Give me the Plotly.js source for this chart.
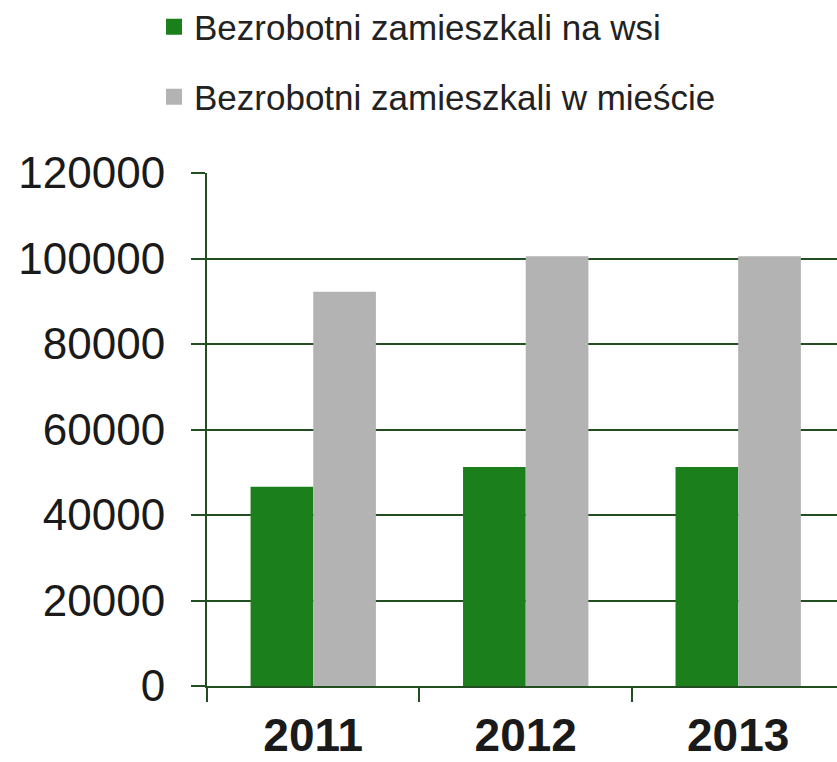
<!DOCTYPE html>
<html>
<head>
<meta charset="utf-8">
<script src="https://cdn.plot.ly/plotly-3.0.1.min.js"></script>
<style>html,body{margin:0;padding:0;background:#fff;}#chart{width:837px;height:762px;}</style>
</head>
<body>
<div id="chart"></div>
<script>
var years = ["2011", "2012", "2013"];
var wies = [46600, 51200, 51200];
var miasto = [92200, 100500, 100500];
var seriesNames = ["Bezrobotni zamieszkali na wsi", "Bezrobotni zamieszkali w mieście"];
var seriesColors = ["#1b7f1b", "#b3b3b3"];
var yTicks = [0, 20000, 40000, 60000, 80000, 100000, 120000];

var axisColor = "#224e22";
var traces = [
  {type: "bar", x: years, y: wies, name: seriesNames[0], marker: {color: seriesColors[0]}, showlegend: false},
  {type: "bar", x: years, y: miasto, name: seriesNames[1], marker: {color: seriesColors[1]}, showlegend: false},
  {type: "scatter", mode: "markers", x: [null], y: [null], name: seriesNames[0],
   marker: {symbol: "square", size: 16, color: seriesColors[0]}, legend: "legend", hoverinfo: "skip"},
  {type: "scatter", mode: "markers", x: [null], y: [null], name: seriesNames[1],
   marker: {symbol: "square", size: 16, color: seriesColors[1]}, legend: "legend2", hoverinfo: "skip"}
];
var legendFont = {family: "Liberation Sans, Arial, sans-serif", size: 35, color: "#222"};
var layout = {
  width: 837, height: 762,
  margin: {l: 207, r: 0, t: 173, b: 75.5, autoexpand: false},
  paper_bgcolor: "#fff", plot_bgcolor: "#fff",
  barmode: "group", bargap: 0.41, bargroupgap: 0,
  showlegend: true,
  legend: {xref: "container", yref: "container", x: 0.184, y: 1 - 27/762, xanchor: "left", yanchor: "middle",
           font: legendFont, bgcolor: "rgba(0,0,0,0)", itemwidth: 30},
  legend2: {xref: "container", yref: "container", x: 0.184, y: 1 - 97/762, xanchor: "left", yanchor: "middle",
           font: legendFont, bgcolor: "rgba(0,0,0,0)", itemwidth: 30},
  xaxis: {
    type: "category", range: [-0.5, 2.465], automargin: false,
    showline: true, linecolor: axisColor, linewidth: 2,
    ticks: "outside", tickson: "boundaries", ticklen: 14, tickwidth: 2, tickcolor: axisColor,
    showgrid: false, tickangle: 0,
    tickfont: {family: "Liberation Sans, Arial, sans-serif", size: 46, color: "#1a1a1a", weight: "bold"},
    ticklabelstandoff: 8
  },
  yaxis: {
    range: [0, 120000], tickvals: yTicks, ticktext: yTicks.map(String), automargin: false,
    showline: true, linecolor: axisColor, linewidth: 2,
    ticks: "outside", ticklen: 14, tickwidth: 2, tickcolor: axisColor,
    showgrid: true, gridcolor: axisColor, gridwidth: 2,
    zeroline: false,
    tickfont: {family: "Liberation Sans, Arial, sans-serif", size: 44, color: "#1a1a1a"},
    ticklabelstandoff: 17
  }
};
Plotly.newPlot("chart", traces, layout, {displayModeBar: false, staticPlot: true});
</script>
</body>
</html>
